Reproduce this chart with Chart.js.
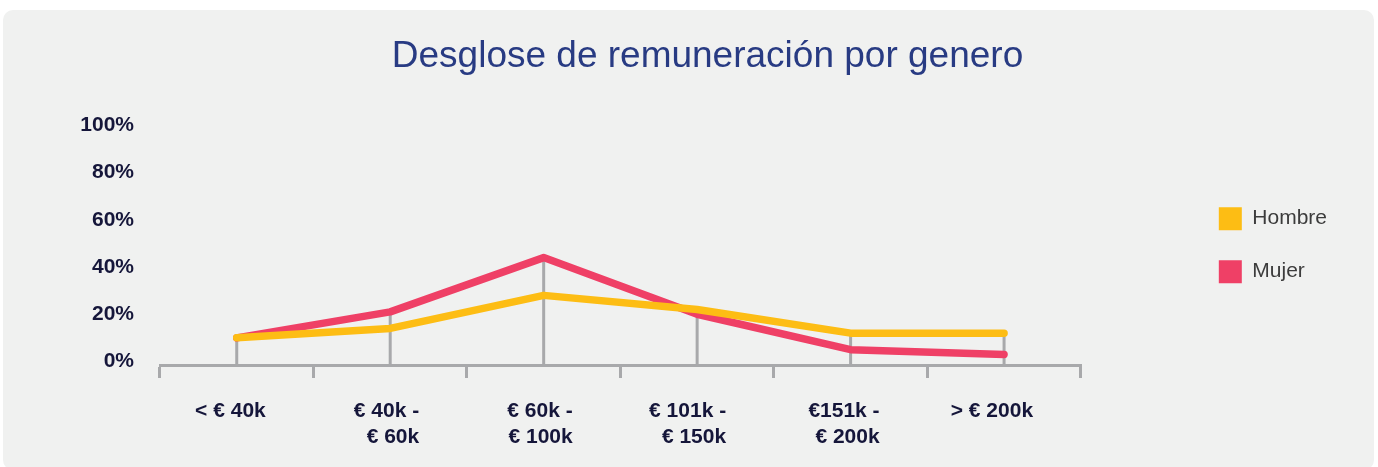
<!DOCTYPE html>
<html lang="es">
<head>
<meta charset="utf-8">
<title>Desglose de remuneración por genero</title>
<script src="https://cdn.jsdelivr.net/npm/chart.js@4/dist/chart.umd.min.js"></script>
<style>
  html, body { margin: 0; padding: 0; background: #ffffff; }
  body { width: 1378px; height: 467px; position: relative; overflow: hidden; }
  .panel {
    position: absolute; left: 3px; top: 10px; width: 1371px; height: 460px;
    background: #f0f1f0; border-radius: 10px;
  }
  .chart-box { position: absolute; left: 0; top: 0; width: 1378px; height: 467px; }
</style>
</head>
<body>
<div class="panel"></div>
<div class="chart-box"><canvas id="payChart"></canvas></div>

<script>
const categories = [
  '< € 40k',
  ['€ 40k -', '€ 60k'],
  ['€ 60k -', '€ 100k'],
  ['€ 101k -', '€ 150k'],
  ['€151k -', '€ 200k'],
  '> € 200k'
];
const seriesNames = ['Hombre', 'Mujer'];
const hombre = [10, 14, 28, 22, 12, 12];
const mujer = [10, 21, 44, 20, 5, 3];
const yTicks = [0, 20, 40, 60, 80, 100];

const FONT = "'Liberation Sans', Arial, Helvetica, sans-serif";
const axisGray = '#a8a9ab';
const labelNavy = '#15163a';

// vertical grey lines from the highest point of each category down to the axis
const dropLines = {
  id: 'dropLines',
  beforeDatasetsDraw(chart) {
    const { ctx, scales: { x, y } } = chart;
    ctx.save();
    ctx.strokeStyle = axisGray;
    ctx.lineWidth = 3;
    categories.forEach((c, i) => {
      const top = Math.max(...chart.data.datasets.map(d => d.data[i]));
      const px = x.getPixelForValue(i);
      ctx.beginPath();
      ctx.moveTo(px, y.getPixelForValue(top));
      ctx.lineTo(px, y.bottom);
      ctx.stroke();
    });
    ctx.restore();
  }
};

function drawChart() {
  const ctx = document.getElementById('payChart').getContext('2d');
  new Chart(ctx, {
    type: 'line',
    data: {
      labels: categories,
      datasets: [{
        label: seriesNames[0],
        data: hombre,
        borderColor: '#fdbd14',
        backgroundColor: '#fdbd14',
        borderWidth: 7.5,
        borderCapStyle: 'round',
        borderJoinStyle: 'round',
        pointRadius: 0,
        tension: 0
      }, {
        label: seriesNames[1],
        data: mujer,
        borderColor: '#ef4066',
        backgroundColor: '#ef4066',
        borderWidth: 7.5,
        borderCapStyle: 'round',
        borderJoinStyle: 'round',
        pointRadius: 0,
        tension: 0
      }]
    },
    options: {
      responsive: true,
      maintainAspectRatio: false,
      animation: false,
      layout: { padding: { left: 78, right: 41, top: 10, bottom: 0 } },
      scales: {
        x: {
          type: 'category',
          offset: true,
          grid: {
            display: true,
            drawOnChartArea: false,
            drawTicks: true,
            tickLength: 13,
            lineWidth: 3,
            color: axisGray,
            offset: true
          },
          border: { display: true, color: axisGray, width: 3 },
          ticks: {
            color: labelNavy,
            font: { family: FONT, size: 21, weight: 'bold', lineHeight: 1.2 },
            padding: 21,
            align: 'end',
            labelOffset: 29,
            maxRotation: 0,
            autoSkip: false
          },
          afterFit(scale) { scale.height = 102; }
        },
        y: {
          min: -1.5,
          max: 100,
          grid: { display: false, drawTicks: false },
          border: { display: false },
          ticks: {
            color: labelNavy,
            font: { family: FONT, size: 21, weight: 'bold' },
            padding: 26,
            callback: v => v + '%'
          },
          afterBuildTicks(scale) { scale.ticks = yTicks.map(v => ({ value: v })); },
          afterFit(scale) { scale.width = 82; }
        },
        // empty space between the plot and the legend
        gap: {
          type: 'linear',
          position: 'right',
          grid: { display: false, drawTicks: false },
          border: { display: false },
          ticks: { display: false },
          afterFit(scale) { scale.width = 108; }
        }
      },
      plugins: {
        title: {
          display: true,
          text: 'Desglose de remuneración por genero',
          color: '#283b83',
          font: { family: FONT, size: 37, weight: 'normal' },
          padding: { top: 25, bottom: 46 }
        },
        legend: {
          position: 'right',
          fullSize: false,
          labels: {
            boxWidth: 23,
            boxHeight: 23,
            padding: 30,
            color: '#3c3c3c',
            font: { family: FONT, size: 21 },
            generateLabels(chart) {
              return Chart.defaults.plugins.legend.labels.generateLabels(chart)
                .map(item => ({ ...item, lineWidth: 0 }));
            }
          }
        },
        tooltip: { enabled: false }
      }
    },
    plugins: [dropLines]
  });
}

document.addEventListener('DOMContentLoaded', drawChart);
</script>
</body>
</html>
